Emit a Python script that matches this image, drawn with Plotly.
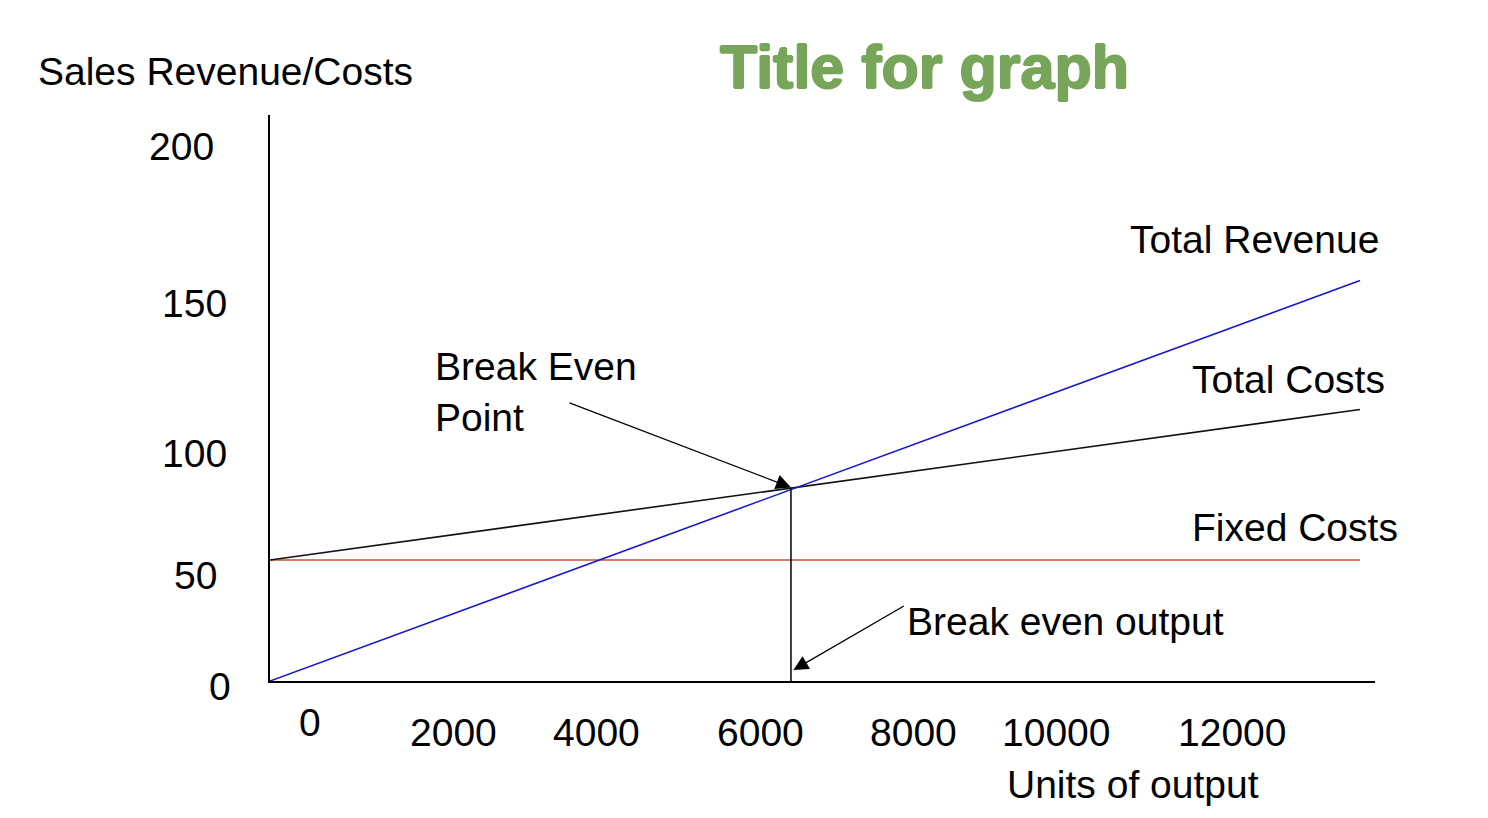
import plotly.graph_objects as go

# ---- data ----
units = [0, 13600]
total_revenue = [0, 165.5]
total_costs = [50, 112.2]
fixed_costs = [50, 50]
break_even_units = 6500
break_even_value = 80

y_tick_labels = ["200", "150", "100", "50", "0"]
x_tick_labels = ["0", "2000", "4000", "6000", "8000", "10000", "12000"]

# ---- layout geometry (pixels in the 1488x818 page) ----
OFF = 8  # default body margin of the html page
W, H = 1488 - OFF, 818 - OFF
L, R, T, B = 270, 1375, 115, 681
X_MAX = 13787
Y_MAX = 233.9

def fx(p):
    return (p - L) / (R - L)

def fy(p):
    return (B - p) / (B - T)

# label anchor positions (right edge / centre for ticks), page pixels
y_tick_pos = [(216, 147), (229, 303), (229, 453), (219, 575), (233, 686)]
x_tick_pos = [(310, 722), (453, 732), (596, 732), (760, 732), (913, 732), (1056, 732), (1232, 732)]

FONT = "Liberation Sans, Arial, sans-serif"
FS = 39
GREEN = "#77A65A"

fig = go.Figure()
fig.add_trace(go.Scatter(x=units, y=fixed_costs, mode="lines",
                         line=dict(color="#C8503C", width=1.6), hoverinfo="skip"))
fig.add_trace(go.Scatter(x=units, y=total_costs, mode="lines",
                         line=dict(color="#111111", width=1.6), hoverinfo="skip"))
fig.add_trace(go.Scatter(x=units, y=total_revenue, mode="lines",
                         line=dict(color="#1A1ACC", width=1.6), hoverinfo="skip"))
fig.add_trace(go.Scatter(x=[break_even_units, break_even_units], y=[0, break_even_value],
                         mode="lines", line=dict(color="#111111", width=1.6), hoverinfo="skip"))

ann = []
def text(t, x, y, xanchor="left", size=FS, color="#000000", weight="normal", **kw):
    ann.append(dict(text=t, x=fx(x), y=fy(y), xref="paper", yref="paper",
                    xanchor=xanchor, yanchor="middle", showarrow=False,
                    font=dict(family=FONT, size=size, color=color, weight=weight), **kw))

for lab, (x, y) in zip(y_tick_labels, y_tick_pos):
    text(lab, x, y, xanchor="right")
for lab, (x, y) in zip(x_tick_labels, x_tick_pos):
    text(lab, x, y, xanchor="center")

text("Sales Revenue/Costs", 36, 72)
text("Units of output", 1133, 784, xanchor="center")
text("Total Revenue", 1128, 239)
text("Total Costs", 1190, 379)
text("Fixed Costs", 1190, 527)
text("Break even output", 905, 621)
ann.append(dict(text="Break Even<br>Point", x=fx(433), y=fy(392), xref="paper", yref="paper",
                xanchor="left", yanchor="middle", showarrow=False, align="left",
                font=dict(family=FONT, size=FS, color="#000000")))
text("Title for graph", 924, 67, xanchor="center", size=61, color=GREEN, weight="bold")
ann[-1]["font"]["shadow"] = f"1px 0 0 {GREEN}, -1px 0 0 {GREEN}, 0 1px 0 {GREEN}, 0 -1px 0 {GREEN}"

# arrows (head at break-even point / break-even output)
ann.append(dict(x=break_even_units, y=break_even_value, xref="x", yref="y",
                ax=568 - 791, ay=403 - 488, text="", showarrow=True,
                arrowhead=2, arrowsize=2.3, arrowwidth=1.3, arrowcolor="#000000"))
ann.append(dict(x=break_even_units + 30, y=4.5, xref="x", yref="y",
                ax=905 - 793, ay=605 - 670, text="", showarrow=True,
                arrowhead=2, arrowsize=2.3, arrowwidth=1.3, arrowcolor="#000000"))

fig.update_layout(
    width=W, height=H,
    margin=dict(l=L - OFF, r=(W + OFF) - R, t=T - OFF, b=(H + OFF) - B, pad=0),
    paper_bgcolor="white", plot_bgcolor="white",
    showlegend=False,
    annotations=ann,
    xaxis=dict(range=[0, X_MAX], showline=True, linecolor="#000000", linewidth=2,
               showgrid=False, zeroline=False, showticklabels=False, ticks=""),
    yaxis=dict(range=[0, Y_MAX], showline=True, linecolor="#000000", linewidth=2,
               showgrid=False, zeroline=False, showticklabels=False, ticks=""),
)

fig.write_html("out.html")
